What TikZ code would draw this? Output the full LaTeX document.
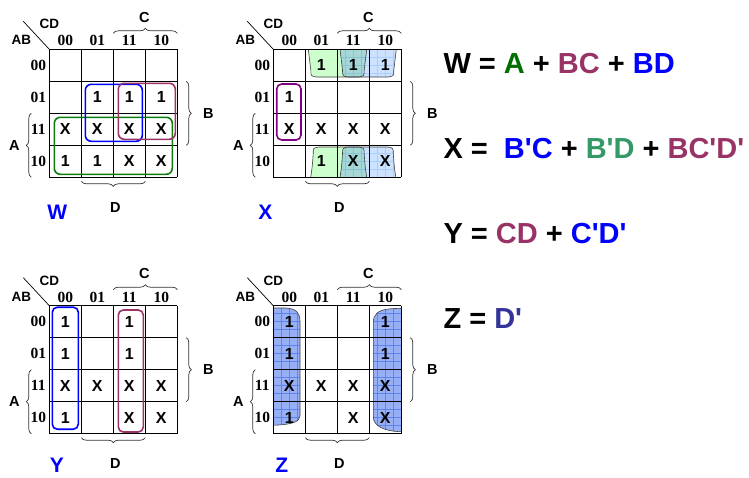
\documentclass[tikz,border=0pt]{standalone}
\usepackage{fontspec}
\setmainfont{Liberation Sans}[Ligatures=TeXOff]
\newfontfamily\hdrfont{Liberation Serif}
\usetikzlibrary{decorations.pathreplacing}
\definecolor{eqgreen}{RGB}{0,110,0}
\definecolor{loopgreen}{RGB}{10,125,10}
\definecolor{maroon}{RGB}{153,51,102}
\definecolor{seagrn}{RGB}{51,153,102}
\definecolor{dslate}{RGB}{51,51,153}
\definecolor{lpurple}{RGB}{128,0,128}
\definecolor{xgreen}{RGB}{204,255,204}
\definecolor{xblue}{RGB}{204,226,255}
\definecolor{xbluegrid}{RGB}{170,205,250}
\definecolor{xteal}{RGB}{165,215,215}
\definecolor{xtealgrid}{RGB}{140,195,212}
\definecolor{zblue}{RGB}{150,175,245}
\definecolor{zgrid}{RGB}{95,130,235}
\tikzset{
  gl/.style={line width=1pt, black},
  hdr/.style={font=\hdrfont\bfseries\fontsize{15.5}{15.5}\selectfont, inner sep=0pt},
  lbl/.style={font=\bfseries\fontsize{13.5}{13.5}\selectfont, inner sep=0pt},
  big/.style={font=\bfseries\fontsize{14.5}{14.5}\selectfont, inner sep=0pt},
  cell/.style={font=\bfseries\fontsize{16}{16}\selectfont, inner sep=0pt},
  mapname/.style={font=\bfseries\fontsize{21}{21}\selectfont, inner sep=0pt, blue},
  br/.style={decorate, decoration={brace, amplitude=5pt}, line width=0.7pt, black!80},
  kloop/.style={line width=1.6pt, rounded corners=6pt},
  eq/.style={font=\bfseries\fontsize{29}{30}\selectfont, inner sep=0pt, anchor=base west},
  shapeline/.style={line width=0.6pt, black!75},
  cupT/.style n args={4}{insert path={(#1,#3) .. controls ({#1+1.5},{#3+10}) .. ({#1+2.5},{#4-7}) .. controls ({#1+2.5},{#4-1}) .. ({#1+8},#4) -- ({#2-8},#4) .. controls ({#2-2.5},{#4-1}) .. ({#2-2.5},{#4-7}) .. controls ({#2-1.5},{#3+10}) .. (#2,#3) -- cycle}},
  cupB/.style n args={4}{insert path={(#1,#4) .. controls ({#1+1.5},{#4-10}) .. ({#1+2.5},{#3+7}) .. controls ({#1+2.5},{#3+1}) .. ({#1+8},#3) -- ({#2-8},#3) .. controls ({#2-2.5},{#3+1}) .. ({#2-2.5},{#3+7}) .. controls ({#2-1.5},{#4-10}) .. (#2,#4) -- cycle}},
  zleft/.style={insert path={(0,2.3) -- (12,2.3) .. controls (23,2.8) and (26.7,7) .. (26.7,16) -- (26.7,110) .. controls (26.7,116) and (19,119) .. (0,119.5) -- cycle}},
  zright/.style={insert path={(128,2.5) -- (118,3) .. controls (104,4) and (100,9) .. (100,17) -- (100,111) .. controls (100,120) and (110,125.5) .. (128,126) -- cycle}},
}
\newcommand{\kframe}[1]{%
  \foreach \i in {0,32,64,96,128} {\draw[gl] (\i,0) -- (\i,128); \draw[gl] (0,\i) -- (128,\i);}
  \node[hdr] (#1c00) at (16,-8.5) {00};
  \node[hdr] (#1c01) at (48,-8.5) {01};
  \node[hdr] (#1c11) at (80,-8.5) {11};
  \node[hdr] (#1c10) at (112,-8.5) {10};
  \node[hdr] (#1r00) at (-11,16) {00};
  \node[hdr] (#1r01) at (-11,48) {01};
  \node[hdr] (#1r11) at (-11,80) {11};
  \node[hdr] (#1r10) at (-11,112) {10};
  \node[lbl] (#1cd) at (0,-25) {CD};
  \node[lbl] (#1ab) at (-28,-9) {AB};
  \coordinate (#1o) at (0,0);
  \coordinate (#1d) at (-26,-28);
  \draw[line width=0.7pt] (#1d) -- (#1o);
  \coordinate (#1cb1) at (64,-16); \coordinate (#1cb2) at (128,-16);
  \draw[br] (#1cb1) -- (#1cb2);
  \node[big] (#1C) at (95,-32) {C};
  \coordinate (#1bb1) at (137,32); \coordinate (#1bb2) at (137,96);
  \draw[br] (#1bb1) -- (#1bb2);
  \node[big] (#1B) at (159,64) {B};
  \coordinate (#1ab1) at (-18,128); \coordinate (#1ab2) at (-18,64);
  \draw[br] (#1ab1) -- (#1ab2);
  \node[big] (#1A) at (-35,96) {A};
  \coordinate (#1db1) at (96,132); \coordinate (#1db2) at (32,132);
  \draw[br] (#1db1) -- (#1db2);
  \node[big] (#1D) at (66,158) {D};
}
\newcommand{\kc}[4]{\node[cell] (#1) at ({#2*32+16},{#3*32+16}) {#4};}
\begin{document}
\begin{tikzpicture}[x=1pt,y=-1pt]
\useasboundingbox (0,0) rectangle (749,477);
% ---------- W map
\begin{scope}[shift={(49.3,49.3)}]
  \kframe{w}
  \kc{w11}{1}{1}{1} \kc{w21}{2}{1}{1} \kc{w31}{3}{1}{1}
  \kc{w02}{0}{2}{X} \kc{w12}{1}{2}{X} \kc{w22}{2}{2}{X} \kc{w32}{3}{2}{X}
  \kc{w03}{0}{3}{1} \kc{w13}{1}{3}{1} \kc{w23}{2}{3}{X} \kc{w33}{3}{3}{X}
  \draw[kloop, loopgreen] (5,68) rectangle (123,125);
  \draw[kloop, blue] (36,35) rectangle (93,92);
  \draw[kloop, maroon] (69,34) rectangle (126,90);
  \node[mapname] (wname) at (8,163) {W};
\end{scope}
% ---------- X map
\begin{scope}[shift={(273.3,49.3)}]
  % top row groups
  \fill[xgreen, cupT={35}{93.4}{0}{27.7}];
  \begin{scope}
    \clip[cupT={66.7}{123}{0}{27.7}];
    \fill[xblue] (60,-2) rectangle (130,30);
    \draw[xbluegrid, line width=0.5pt, step=8pt] (56,-8) grid (136,32);
    \clip[cupT={35}{93.4}{0}{27.7}];
    \fill[xteal] (60,-2) rectangle (130,30);
    \draw[xtealgrid, line width=0.5pt, step=8pt] (56,-8) grid (136,32);
  \end{scope}
  \draw[shapeline, cupT={35}{93.4}{0}{27.7}];
  \draw[shapeline, cupT={66.7}{123}{0}{27.7}];
  % bottom row groups
  \fill[xgreen, cupB={37.4}{93.4}{97.7}{128}];
  \begin{scope}
    \clip[cupB={66.7}{122.5}{97.7}{128}];
    \fill[xblue] (60,95) rectangle (130,130);
    \draw[xbluegrid, line width=0.5pt, step=8pt] (56,88) grid (136,136);
    \clip[cupB={37.4}{93.4}{97.7}{128}];
    \fill[xteal] (60,95) rectangle (130,130);
    \draw[xtealgrid, line width=0.5pt, step=8pt] (56,88) grid (136,136);
  \end{scope}
  \draw[shapeline, cupB={37.4}{93.4}{97.7}{128}];
  \draw[shapeline, cupB={66.7}{122.5}{97.7}{128}];
  \kframe{x}
  \kc{x10}{1}{0}{1} \kc{x20}{2}{0}{1} \kc{x30}{3}{0}{1}
  \kc{x01}{0}{1}{1}
  \kc{x02}{0}{2}{X} \kc{x12}{1}{2}{X} \kc{x22}{2}{2}{X} \kc{x32}{3}{2}{X}
  \kc{x13}{1}{3}{1} \kc{x23}{2}{3}{X} \kc{x33}{3}{3}{X}
  \draw[kloop, lpurple, rounded corners=5pt] (3.4,34.7) rectangle (27.7,90.7);
  \node[mapname] (xname) at (-8,163) {X};
\end{scope}
% ---------- Y map
\begin{scope}[shift={(49.3,305.7)}]
  \kframe{y}
  \kc{y00}{0}{0}{1} \kc{y20}{2}{0}{1}
  \kc{y01}{0}{1}{1} \kc{y21}{2}{1}{1}
  \kc{y02}{0}{2}{X} \kc{y12}{1}{2}{X} \kc{y22}{2}{2}{X} \kc{y32}{3}{2}{X}
  \kc{y03}{0}{3}{1} \kc{y23}{2}{3}{X} \kc{y33}{3}{3}{X}
  \draw[kloop, blue, rounded corners=5pt] (3,1.5) rectangle (29,123.5);
  \draw[kloop, maroon, rounded corners=5pt] (69,4.3) rectangle (94,126.3);
  \node[mapname] (yname) at (7.5,159.5) {Y};
\end{scope}
% ---------- Z map
\begin{scope}[shift={(273.3,305.7)}]
  \begin{scope}
    \clip[zleft];
    \fill[zblue] (-2,0) rectangle (30,128);
    \draw[zgrid, line width=0.45pt, step=8pt] (-8,-8) grid (32,136);
  \end{scope}
  \begin{scope}
    \clip[zright];
    \fill[zblue] (98,0) rectangle (130,128);
    \draw[zgrid, line width=0.45pt, step=8pt] (96,-8) grid (136,136);
  \end{scope}
  \draw[shapeline, zleft];
  \draw[shapeline, zright];
  \kframe{z}
  \kc{z00}{0}{0}{1} \kc{z30}{3}{0}{1}
  \kc{z01}{0}{1}{1} \kc{z31}{3}{1}{1}
  \kc{z02}{0}{2}{X} \kc{z12}{1}{2}{X} \kc{z22}{2}{2}{X} \kc{z32}{3}{2}{X}
  \kc{z03}{0}{3}{1} \kc{z23}{2}{3}{X} \kc{z33}{3}{3}{X}
  \node[mapname] (zname) at (8.4,159.5) {Z};
\end{scope}
% ---------- equations
\node[eq] (eqw) at (443.3,73.3) {W = \textcolor{eqgreen}{A} + \textcolor{maroon}{BC} + \textcolor{blue}{BD}};
\node[eq] (eqx) at (443.3,158.3) {X =\ \ \textcolor{blue}{B'C} + \textcolor{seagrn}{B'D} + \textcolor{maroon}{BC'D'}};
\node[eq] (eqy) at (443.3,243.3) {Y = \textcolor{maroon}{CD} + \textcolor{blue}{C'D'}};
\node[eq] (eqz) at (443.3,328.3) {Z = \textcolor{dslate}{D'}};
\end{tikzpicture}
\end{document}
